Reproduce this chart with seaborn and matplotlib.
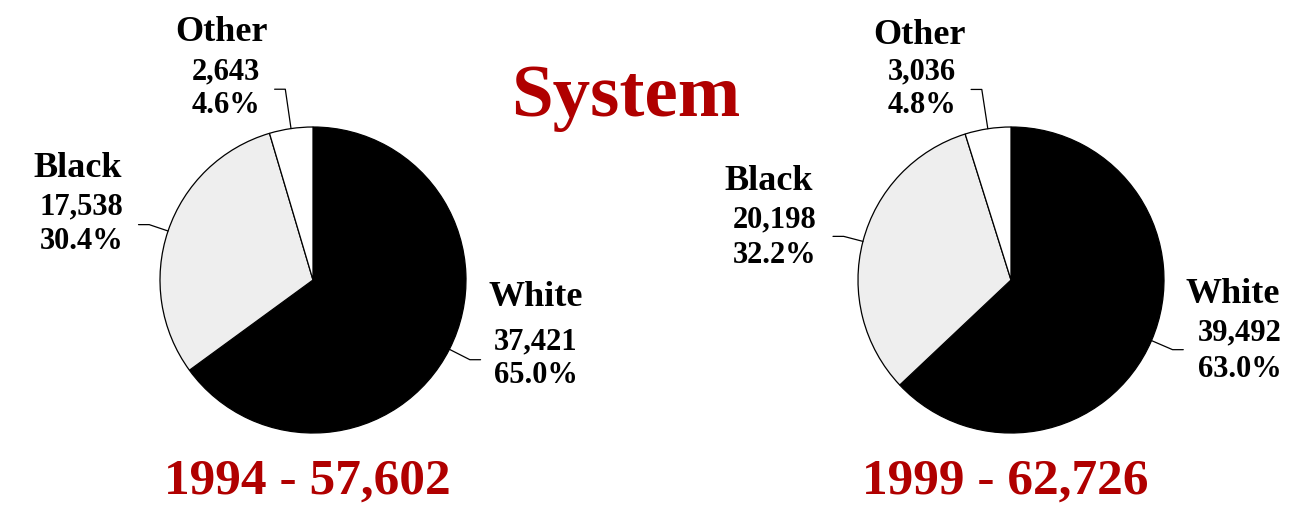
import numpy as np
import seaborn as sns
import matplotlib
matplotlib.use("Agg")
import matplotlib.pyplot as plt

# data
groups = ["White", "Black", "Other"]
years = ["1994", "1999"]
counts_1994 = [37421, 17538, 2643]
counts_1999 = [39492, 20198, 3036]
title = "System"

fill_colors = ["#000000", "#eeeeee", "#ffffff"]
red = "#b00000"

sns.set_theme(style="white")
plt.rcParams['font.family'] = ['Liberation Serif', 'DejaVu Serif']
plt.rcParams['font.weight'] = 'bold'

W, H = 1310, 505
fig = plt.figure(figsize=(W / 100, H / 100), dpi=100)
fig.patch.set_facecolor('white')

def fx(x):
    return x / W

def fy(y):
    return 1 - y / H

# pie boxes in pixels (left, top, size)
pie_boxes = [(160, 127, 306), (858, 127, 306)]
# label layout per pie: (name left, name baseline, value left, value baseline, pct baseline)
label_layout = [
    [(489, 306, 494, 349, 383), (33, 177, 40, 214, 249), (175, 41, 192, 79, 113)],
    [(1185, 303, 1198, 340, 377), (724, 190, 733, 227, 263), (873, 44, 888, 79, 113)],
]
elbow_r = [1.15, 1.13, 1.26]
tail = 0.07

for i, counts in enumerate([counts_1994, counts_1999]):
    left, top, size = pie_boxes[i]
    ax = fig.add_axes([fx(left), fy(top + size), size / W, size / H])
    wedges, _ = ax.pie(counts, colors=fill_colors, startangle=90, counterclock=False,
                       wedgeprops=dict(edgecolor='black', linewidth=0.9))
    ax.set_xlim(-1, 1)
    ax.set_ylim(-1, 1)
    ax.set_aspect('equal')
    ax.axis('off')

    total = sum(counts)
    for j, w in enumerate(wedges):
        mid = np.deg2rad((w.theta1 + w.theta2) / 2)
        c, s = np.cos(mid), np.sin(mid)
        ex, ey = elbow_r[j] * c, elbow_r[j] * s
        tx = ex + (tail if c > 0 else -tail)
        ax.plot([c, ex, tx], [s, ey, ey], color='black', lw=0.9, clip_on=False)

        nl, nb, vl, vb, pb = label_layout[i][j]
        fig.text(fx(nl), fy(nb), groups[j], fontsize=26, fontweight='bold',
                 ha='left', va='baseline', color='black')
        fig.text(fx(vl), fy(vb), f"{counts[j]:,}", fontsize=22, fontweight='bold',
                 ha='left', va='baseline', color='black')
        fig.text(fx(vl), fy(pb), f"{100 * counts[j] / total:.1f}%", fontsize=22,
                 fontweight='bold', ha='left', va='baseline', color='black')

    fig.text(fx(left + size / 2 - 6), fy(494), f"{years[i]} - {total:,}", fontsize=37,
             fontweight='bold', color=red, ha='center', va='baseline')

fig.text(fx(626), fy(116), title, fontsize=54, fontweight='bold', color=red,
         ha='center', va='baseline')

fig.savefig("out.png", dpi=100, facecolor='white')
